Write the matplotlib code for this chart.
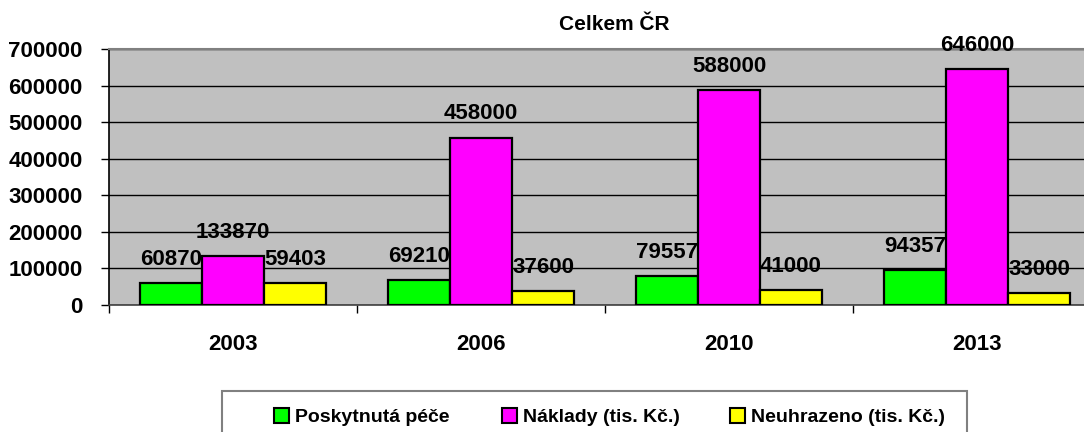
import matplotlib
matplotlib.use("Agg")
import matplotlib.pyplot as plt
import numpy as np
from matplotlib.patches import Patch, Rectangle

years = ["2003", "2006", "2010", "2013"]
series_names = ["Poskytnutá péče", "Náklady (tis. Kč.)", "Neuhrazeno (tis. Kč.)"]
pece = [60870, 69210, 79557, 94357]
naklady = [133870, 458000, 588000, 646000]
neuhrazeno = [59403, 37600, 41000, 33000]
colors = ["#00ff00", "#ff00ff", "#ffff00"]
yticks = [0, 100000, 200000, 300000, 400000, 500000, 600000, 700000]

plt.rcParams['font.family'] = ['Liberation Sans', 'DejaVu Sans']

W, H = 1084, 432
fig = plt.figure(figsize=(W / 100, H / 100), dpi=100)
ax = fig.add_axes([109 / W, (H - 305) / H, (1101 - 109) / W, 256 / H])
ax.set_facecolor("#c0c0c0")

x = np.arange(len(years))
w = 0.25
for i, (vals, c) in enumerate(zip([pece, naklady, neuhrazeno], colors)):
    xs = x + (i - 1) * w
    ax.bar(xs, vals, width=w, color=c, edgecolor="black", linewidth=1.6, zorder=3)
    for xi, v in zip(xs, vals):
        ax.annotate(str(v), (xi, v), xytext=(0, 13), textcoords="offset points",
                    ha="center", va="baseline", fontsize=16, fontweight="bold", zorder=4)

ax.set_xlim(-0.5, len(years) - 0.5)
ax.set_ylim(0, 700000)
ax.set_yticks(yticks)
ax.set_yticklabels([str(t) for t in yticks], fontsize=16, fontweight="bold")
ax.yaxis.grid(True, color="black", linewidth=1.0, zorder=1)
ax.set_axisbelow(True)
ax.tick_params(axis="y", length=6, width=1, pad=13)

ax.set_xticks(x)
ax.set_xticklabels(years, fontsize=16, fontweight="bold")
ax.tick_params(axis="x", length=0, pad=21)
ax.set_xticks(np.arange(len(years) + 1) - 0.5, minor=True)
ax.tick_params(axis="x", which="minor", length=6, width=1)

ax.spines["right"].set_visible(False)
ax.spines["top"].set_color("#808080")
ax.spines["top"].set_linewidth(1.5)
ax.spines["left"].set_linewidth(1.2)
ax.spines["bottom"].set_color("#404040")
ax.spines["bottom"].set_linewidth(1.2)

fig.text(614 / W, 1 - 25 / H, "Celkem ČR", ha="center", va="center",
         fontsize=15, fontweight="bold")

# legend frame
fig.add_artist(Rectangle((222 / W, -0.02), (967 - 222) / W, 0.02 + (432 - 391) / H,
                         transform=fig.transFigure, fill=False,
                         edgecolor="#808080", linewidth=1.5))
leg_x = [274, 502, 730]
for name, c, lx in zip(series_names, colors, leg_x):
    fig.legend([Patch(facecolor=c, edgecolor="black", linewidth=1.5)], [name],
               loc="center left", bbox_to_anchor=(lx / W, 1 - 417 / H),
               prop={"size": 14, "weight": "bold"}, frameon=False,
               handlelength=0.78, handleheight=0.78, handletextpad=0.3,
               borderpad=0, borderaxespad=0)

fig.savefig("out.png", dpi=100)
